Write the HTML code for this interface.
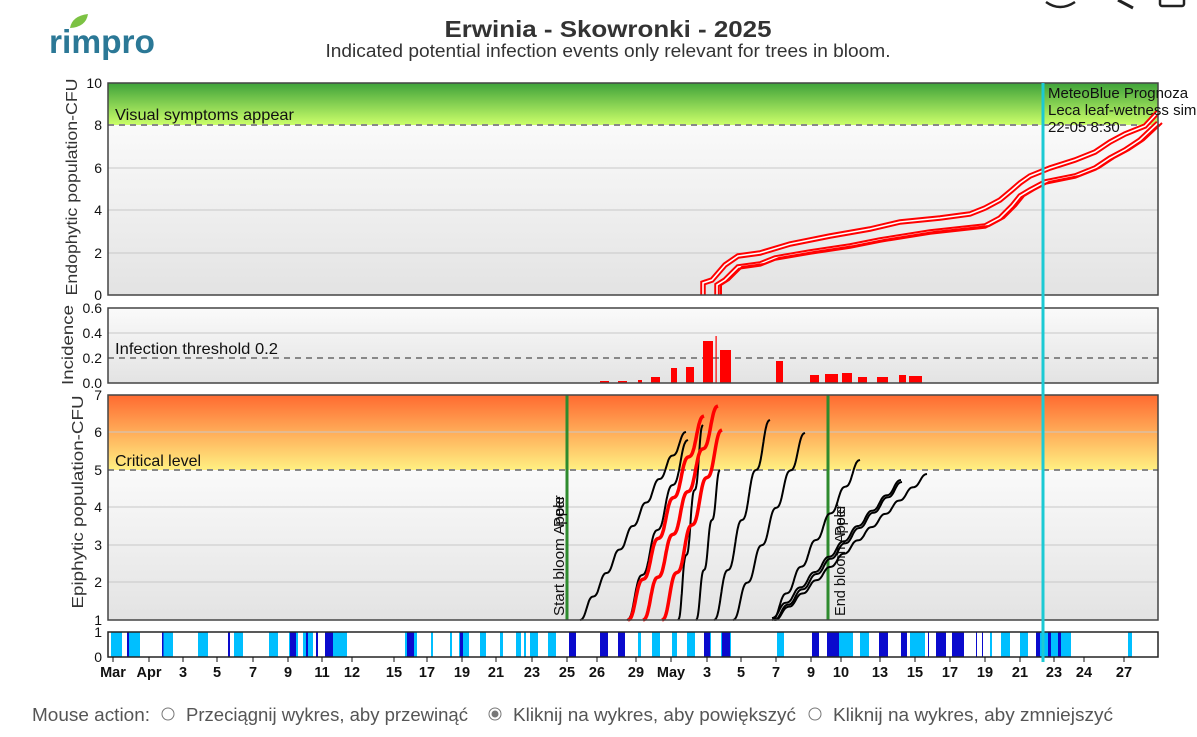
<!DOCTYPE html>
<html><head><meta charset="utf-8"><style>
body{margin:0;background:#fff;width:1197px;height:737px;overflow:hidden;font-family:"Liberation Sans",Arial,sans-serif}
svg{position:absolute;left:0;top:0}
</style></head><body>
<svg id="s" width="1197" height="737" xmlns="http://www.w3.org/2000/svg" font-family="Liberation Sans, Arial, sans-serif">
<defs>
<linearGradient id="gg" x1="0" y1="0" x2="0" y2="1"><stop offset="0" stop-color="#3fa23a"/><stop offset="1" stop-color="#ccff6a"/></linearGradient>
<linearGradient id="gr" x1="0" y1="0" x2="0" y2="1"><stop offset="0" stop-color="#fafafa"/><stop offset="1" stop-color="#e3e3e3"/></linearGradient>
<linearGradient id="go" x1="0" y1="0" x2="0" y2="1"><stop offset="0" stop-color="#ff6a30"/><stop offset="1" stop-color="#fff082"/></linearGradient>
</defs>
<path d="M1046 2 Q1060 12 1075 2" stroke="#222" stroke-width="2.5" fill="none"/>
<line x1="1118" y1="0" x2="1133" y2="8" stroke="#222" stroke-width="3"/>
<rect x="1160" y="-4" width="24" height="10" rx="2" stroke="#222" stroke-width="2.5" fill="none"/>
<path d="M70 28 Q72 16 88 14 Q86 27 70 28Z" fill="#7cc243"/>
<text x="49" y="53" font-size="33" font-weight="bold" fill="#2b7896" textLength="106" lengthAdjust="spacingAndGlyphs">rimpro</text>
<text x="608" y="37" font-size="23" font-weight="bold" fill="#333" text-anchor="middle" textLength="327" lengthAdjust="spacingAndGlyphs">Erwinia - Skowronki - 2025</text>
<text x="608" y="57" font-size="18" fill="#333" text-anchor="middle" textLength="565" lengthAdjust="spacingAndGlyphs">Indicated potential infection events only relevant for trees in bloom.</text>
<rect x="108" y="83" width="1050" height="42" fill="url(#gg)"/>
<rect x="108" y="125" width="1050" height="170" fill="url(#gr)"/>
<g stroke="#c8c8c8" stroke-width="1"><line x1="108" x2="1158" y1="168" y2="168"/><line x1="108" x2="1158" y1="210" y2="210"/><line x1="108" x2="1158" y1="253" y2="253"/></g>
<line x1="108" x2="1158" y1="125" y2="125" stroke="#888" stroke-width="2" stroke-dasharray="6,5"/>
<text x="115" y="120" font-size="16" fill="#111" textLength="179" lengthAdjust="spacingAndGlyphs">Visual symptoms appear</text>
<g id="p1"></g>
<rect x="108" y="83" width="1050" height="212" fill="none" stroke="#444" stroke-width="1.5"/>
<g font-size="14" fill="#111" text-anchor="end"><text x="102" y="88">10</text><text x="102" y="130">8</text><text x="102" y="173">6</text><text x="102" y="215">4</text><text x="102" y="258">2</text><text x="102" y="300">0</text></g>
<text transform="translate(77,187) rotate(-90)" font-size="16" fill="#333" text-anchor="middle" textLength="217" lengthAdjust="spacingAndGlyphs">Endophytic population-CFU</text>
<rect x="108" y="308" width="1050" height="75" fill="url(#gr)"/>
<line x1="108" x2="1158" y1="333" y2="333" stroke="#c8c8c8"/>
<line x1="108" x2="1158" y1="358" y2="358" stroke="#888" stroke-width="2" stroke-dasharray="6,5"/>
<text x="115" y="354" font-size="16" fill="#111" textLength="163" lengthAdjust="spacingAndGlyphs">Infection threshold  0.2</text>
<g id="p2" fill="#ff0000"></g>
<rect x="108" y="308" width="1050" height="75" fill="none" stroke="#444" stroke-width="1.5"/>
<g font-size="14" fill="#111" text-anchor="end"><text x="102" y="313">0.6</text><text x="102" y="338">0.4</text><text x="102" y="363">0.2</text><text x="102" y="388">0.0</text></g>
<text transform="translate(73,345) rotate(-90)" font-size="16" fill="#333" text-anchor="middle" textLength="80" lengthAdjust="spacingAndGlyphs">Incidence</text>
<rect x="108" y="395" width="1050" height="75" fill="url(#go)"/>
<rect x="108" y="470" width="1050" height="150" fill="url(#gr)"/>
<g stroke="#c8c8c8"><line x1="108" x2="1158" y1="432" y2="432"/><line x1="108" x2="1158" y1="507" y2="507"/><line x1="108" x2="1158" y1="545" y2="545"/><line x1="108" x2="1158" y1="582" y2="582"/></g>
<line x1="108" x2="1158" y1="470" y2="470" stroke="#888" stroke-width="2" stroke-dasharray="6,5"/>
<text x="115" y="466" font-size="16" fill="#111" textLength="86" lengthAdjust="spacingAndGlyphs">Critical level</text>
<line x1="567" x2="567" y1="395" y2="620" stroke="#2e8b2e" stroke-width="3"/>
<line x1="828" x2="828" y1="395" y2="620" stroke="#2e8b2e" stroke-width="3"/>
<g font-size="15" fill="#111">
<text transform="translate(564,616) rotate(-90)" textLength="120" lengthAdjust="spacingAndGlyphs">Start bloom Apple</text><text transform="translate(564,616) rotate(-90)" x="89">Peer</text>
<text transform="translate(845,616) rotate(-90)" textLength="110" lengthAdjust="spacingAndGlyphs">End bloom Apple</text><text transform="translate(845,616) rotate(-90)" x="80">Peer</text>
</g>
<g id="p3" fill="none"></g>
<rect x="108" y="395" width="1050" height="225" fill="none" stroke="#444" stroke-width="1.5"/>
<g font-size="14" fill="#111" text-anchor="end"><text x="102" y="400">7</text><text x="102" y="437">6</text><text x="102" y="475">5</text><text x="102" y="512">4</text><text x="102" y="550">3</text><text x="102" y="587">2</text><text x="102" y="625">1</text></g>
<text transform="translate(83,502) rotate(-90)" font-size="16" fill="#333" text-anchor="middle" textLength="213" lengthAdjust="spacingAndGlyphs">Epiphytic population-CFU</text>
<rect x="108" y="632" width="1050" height="25" fill="#fff"/>
<g id="p4"></g>
<rect x="108" y="632" width="1050" height="25" fill="none" stroke="#222" stroke-width="1.5"/>
<g font-size="14" fill="#111" text-anchor="end"><text x="102" y="637">1</text><text x="102" y="662">0</text></g>
<line x1="1043" x2="1043" y1="83" y2="662" stroke="#1ccad4" stroke-width="3"/>
<g font-size="15" fill="#111"><text x="1048" y="98">MeteoBlue Prognoza</text><text x="1048" y="115">Leca leaf-wetness sim</text><text x="1048" y="132">22-05 8:30</text></g>
<g id="ax" font-size="14.5" font-weight="bold" fill="#111" text-anchor="middle"></g>
<g font-size="18" fill="#555">
<text x="32" y="721" textLength="118" lengthAdjust="spacingAndGlyphs">Mouse action:</text>
<circle cx="168" cy="714" r="6" fill="#fff" stroke="#777"/>
<text x="186" y="721" textLength="282" lengthAdjust="spacingAndGlyphs">Przeciągnij wykres, aby przewinąć</text>
<circle cx="495" cy="714" r="6" fill="#fff" stroke="#777"/><circle cx="495" cy="714" r="3.5" fill="#777"/>
<text x="513" y="721" textLength="283" lengthAdjust="spacingAndGlyphs">Kliknij na wykres, aby powiększyć</text>
<circle cx="815" cy="714" r="6" fill="#fff" stroke="#777"/>
<text x="833" y="721" textLength="280" lengthAdjust="spacingAndGlyphs">Kliknij na wykres, aby zmniejszyć</text>
</g>
</svg>
<script>
var NS="http://www.w3.org/2000/svg";
function el(p,t,a){var e=document.createElementNS(NS,t);for(var k in a)e.setAttribute(k,a[k]);document.getElementById(p).appendChild(e);return e;}
function pts(a){return a.map(function(p){return p.join(",")}).join(" ");}
var up=[[703,295],[703,283],[712,280],[725,265],[738,256],[760,253],[790,244],[830,236],[870,229],[900,222],[940,218],[970,214],[985,208],[1000,200],[1012,190],[1020,183],[1030,176],[1050,168],[1075,160],[1095,152],[1110,142],[1125,134],[1145,126],[1158,112]];
var lo=[[717,295],[717,285],[725,280],[738,267],[760,264],[775,258],[810,252],[850,246],[880,240],[930,232],[985,226],[1000,218],[1012,206],[1020,196],[1030,190],[1045,182],[1075,176],[1095,168],[1110,158],[1125,150],[1140,140],[1158,123]];
[up,lo].forEach(function(a){el("p1","polyline",{points:pts(a),fill:"none",stroke:"#ff0000","stroke-width":5.5});el("p1","polyline",{points:pts(a),fill:"none",stroke:"#fff","stroke-width":1.6});});
var lo2=lo.map(function(p){return [p[0]+4,p[1]]});
el("p1","polyline",{points:pts(lo2),fill:"none",stroke:"#ff0000","stroke-width":2});
[[600,609,2],[618,627,2],[638,642,3],[651,660,6],[671,677,15],[686,694,16],[703,713,42],[720,731,33],[776,783,22],[810,819,8],[825,838,9],[842,852,10],[858,867,6],[877,888,6],[899,906,8],[909,922,7]].forEach(function(b){el("p2","rect",{x:b[0],y:383-b[2],width:b[1]-b[0],height:b[2],fill:"#ff0000"});});
el("p2","rect",{x:715.5,y:336,width:1.2,height:47,fill:"#ff0000"});
function stair(x0,y0,x1,y1,col,w){var n=Math.max(3,Math.round((x1-x0)/14)),d="";for(var i=0;i<=120;i++){var t=i/120;var s=t-Math.sin(2*Math.PI*n*t)/(2*Math.PI*n)*0.9;var x=x0+(x1-x0)*t;var y=y0+(y1-y0)*s;d+=(i?"L":"M")+x.toFixed(1)+" "+y.toFixed(1);}el("p3","path",{d:d,stroke:col,"stroke-width":w,fill:"none"});}
stair(580,620,686,432,"#000",2);
stair(627,620,688,440,"#000",2);
stair(678,620,703,425,"#000",2);
stair(696,620,720,470,"#000",2);
stair(714,620,770,420,"#000",2);
stair(733,620,805,433,"#000",2);
stair(772,620,860,460,"#000",2);
stair(772,618,901,480,"#000",2);stair(774,620,902,482,"#000",2);
stair(775,620,927,474,"#000",2);
stair(628,620,704,416,"#ff0000",3.5);
stair(643,620,718,406,"#ff0000",3.5);
stair(662,620,722,430,"#ff0000",3.5);
var cy=[[111,122],[129,140],[163,173],[198,208],[234,243],[269,278],[289,298],[303,313],[325,347],[405,417],[431,433],[450,452],[459,469],[480,486],[500,503],[516,521],[524,526],[530,538],[548,556],[638,641],[652,660],[672,677],[687,695],[704,711],[721,731],[777,784],[839,853],[860,869],[901,907],[910,925],[990,992],[1001,1010],[1020,1028],[1036,1071],[1128,1132]];
var dk=[[127,129],[162,163.5],[228,230],[290,296],[306,308],[316,318],[325,333],[407,414],[460,463],[569,576],[600,608],[618,625],[704,710],[722,730],[812,819],[827,839],[879,888],[901,907],[928,929],[936,946],[952,964],[976,977],[982,983],[1036,1040],[1048,1051],[1058,1061]];
cy.forEach(function(b){el("p4","rect",{x:b[0],y:632,width:b[1]-b[0],height:25,fill:"#00bfff"});});
dk.forEach(function(b){el("p4","rect",{x:b[0],y:632,width:b[1]-b[0],height:25,fill:"#0a0acd"});});
var lab=[["Mar",113],["Apr",149],["3",183],["5",217],["7",253],["9",288],["11",322],["12",352],["15",394],["17",427],["19",462],["21",496],["23",532],["25",567],["26",597],["29",636],["May",671],["3",707],["5",741],["7",776],["9",811],["10",841],["13",880],["15",915],["17",950],["19",985],["21",1020],["23",1054],["24",1084],["27",1124]];
lab.forEach(function(l){var t=el("ax","text",{x:l[1],y:677});t.textContent=l[0];el("ax","line",{x1:l[1],x2:l[1],y1:657,y2:662,stroke:"#111"});});
</script>
</body></html>
